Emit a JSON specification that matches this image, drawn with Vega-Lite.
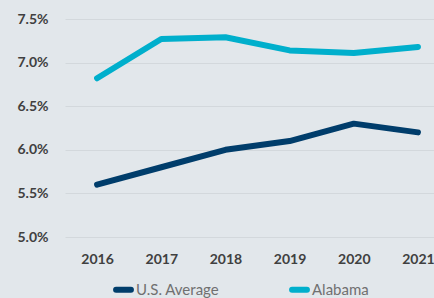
{
  "$schema": "https://vega.github.io/schema/vega-lite/v6.json",
  "autosize": {"type": "none"},
  "width": 369,
  "height": 218,
  "padding": {"left": 65, "top": 19, "right": 0, "bottom": 61},
  "background": "#e2e7eb",
  "config": {
    "view": {"stroke": null},
    "font": "Lato"
  },
  "data": {
    "values": [
      {"year": 2016, "series": "U.S. Average", "rate": 5.6},
      {"year": 2017, "series": "U.S. Average", "rate": 5.8},
      {"year": 2018, "series": "U.S. Average", "rate": 6.0},
      {"year": 2019, "series": "U.S. Average", "rate": 6.1},
      {"year": 2020, "series": "U.S. Average", "rate": 6.3},
      {"year": 2021, "series": "U.S. Average", "rate": 6.2},
      {"year": 2016, "series": "Alabama", "rate": 6.82},
      {"year": 2017, "series": "Alabama", "rate": 7.27},
      {"year": 2018, "series": "Alabama", "rate": 7.29},
      {"year": 2019, "series": "Alabama", "rate": 7.14},
      {"year": 2020, "series": "Alabama", "rate": 7.11},
      {"year": 2021, "series": "Alabama", "rate": 7.18}
    ]
  },
  "mark": {"type": "line", "strokeWidth": 6, "strokeCap": "round", "strokeJoin": "round"},
  "encoding": {
    "x": {
      "field": "year",
      "type": "quantitative",
      "scale": {"domain": [2015.5, 2021.25], "nice": false, "zero": false},
      "axis": {
        "title": null,
        "values": [2016, 2017, 2018, 2019, 2020, 2021],
        "format": "d",
        "grid": false,
        "domain": false,
        "ticks": false,
        "labelPadding": 15,
        "labelFontSize": 14,
        "labelFontWeight": "bold",
        "labelColor": "#404040",
        "labelFlush": false
      }
    },
    "y": {
      "field": "rate",
      "type": "quantitative",
      "scale": {"domain": [5.0, 7.5], "nice": false, "zero": false},
      "axis": {
        "title": null,
        "values": [5.0, 5.5, 6.0, 6.5, 7.0, 7.5],
        "labelExpr": "format(datum.value, '.1f') + '%'",
        "domain": false,
        "ticks": false,
        "labelPadding": 17,
        "labelFontSize": 14,
        "labelFontWeight": "bold",
        "labelColor": "#404040",
        "gridColor": "#d3d8dc",
        "gridWidth": 1
      }
    },
    "color": {
      "field": "series",
      "type": "nominal",
      "sort": ["U.S. Average", "Alabama"],
      "scale": {"domain": ["U.S. Average", "Alabama"], "range": ["#003d6b", "#00afcc"]},
      "legend": {
        "title": null,
        "orient": "none",
        "legendX": 48,
        "legendY": 260,
        "direction": "horizontal",
        "symbolType": "stroke",
        "symbolSize": 220,
        "symbolStrokeWidth": 6,
        "labelFontSize": 15,
        "labelColor": "#707070",
        "labelOffset": 2,
        "columnPadding": 60,
        "encode": {"symbols": {"update": {"strokeCap": {"value": "round"}}}}
      }
    }
  }
}
